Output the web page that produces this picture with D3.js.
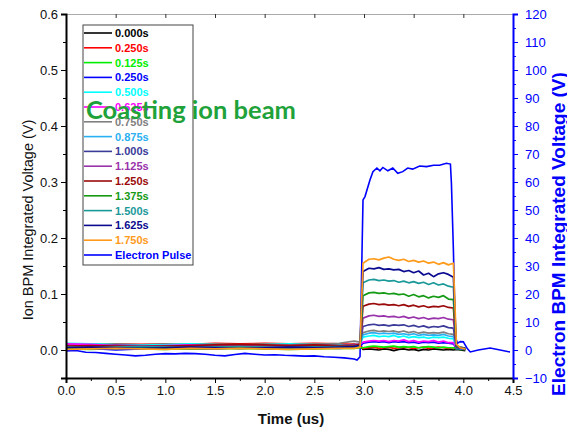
<!DOCTYPE html>
<html lang="en">
<head>
  <meta charset="UTF-8">
  <title>Ion BPM</title>
  <style>
    body{ margin: 0; background: #fff; }
    svg{ display: block; font-family: "Liberation Sans", Arial, sans-serif; }
  </style>
</head>
<body>
<svg width="567" height="430"></svg>

<script src="https://cdn.jsdelivr.net/npm/d3@7"></script>
<script>
  // tick labels
  var xTicks = [0, 0.5, 1.0, 1.5, 2.0, 2.5, 3.0, 3.5, 4.0, 4.5];
  var yLeftTicks = [0, 0.1, 0.2, 0.3, 0.4, 0.5, 0.6];
  var yRightTicks = [-10, 0, 10, 20, 30, 40, 50, 60, 70, 80, 90, 100, 110, 120];

  // legend names of the ion traces
  var ionNames = ['0.000s', '0.250s', '0.125s', '0.250s', '0.500s', '0.625s', '0.750s', '0.875s',
    '1.000s', '1.125s', '1.250s', '1.375s', '1.500s', '1.625s', '1.750s'];
  var ionColors = ['#000000', '#ff0000', '#00ee00', '#0000ff', '#00ffff', '#ff00ff', '#808080', '#2ab0f0',
    '#3b3b9a', '#9933aa', '#9b0a0a', '#159a15', '#1a9999', '#0a0a90', '#ff9a1a'];

  // time (us) shared by the ion traces
  var ionTime = [0, 0.25, 0.5, 0.75, 1.0, 1.25, 1.5, 1.75, 2.0, 2.25, 2.5, 2.75, 2.9, 2.96,
    2.99, 3.05, 3.1, 3.15, 3.2, 3.25, 3.3, 3.35, 3.4, 3.45, 3.5, 3.55, 3.6, 3.65, 3.7, 3.75, 3.8, 3.85, 3.9,
    3.93, 3.97, 4.02];

  // ion BPM voltage (V), one array per trace
  var ion000 = [0.005,0.006,0.004,0.006,0.005,0.007,0.005,0.006,0.007,0.006,0.007,0.008,0.010,0.008,
    0.001,0.002,0.001,0.000,0.002,0.001,-0.001,0.001,0.002,0.000,0.001,-0.001,0.001,0.000,0.002,0.001,0.000,0.001,0.000,
    0.001,0.000,-0.001];
  var ion025a = [0.009,0.010,0.011,0.010,0.011,0.010,0.012,0.011,0.012,0.011,0.012,0.011,0.010,0.009,
    0.003,0.004,0.005,0.003,0.004,0.005,0.003,0.004,0.005,0.004,0.003,0.004,0.005,0.003,0.004,0.005,0.004,0.003,0.004,
    0.003,0.002,0.001];
  var ion0125 = [0.002,0.001,0.003,0.002,0.001,0.003,0.002,0.003,0.002,0.001,0.002,0.003,0.003,0.004,
    0.004,0.006,0.007,0.006,0.005,0.006,0.007,0.005,0.006,0.005,0.006,0.004,0.005,0.006,0.005,0.004,0.005,0.004,0.004,
    0.002,0.001,0.001];
  var ion025b = [0.006,0.003,0.000,0.002,0.004,0.003,0.002,0.004,0.003,0.002,0.004,0.003,0.004,0.006,
    0.012,0.014,0.015,0.014,0.015,0.013,0.015,0.014,0.015,0.013,0.014,0.012,0.014,0.013,0.014,0.012,0.013,0.012,0.011,
    0.003,0.002,0.001];
  var ion050 = [0.012,0.011,0.010,0.009,0.010,0.011,0.010,0.009,0.010,0.011,0.010,0.009,0.008,0.010,
    0.023,0.025,0.026,0.024,0.025,0.024,0.026,0.023,0.025,0.022,0.024,0.022,0.023,0.021,0.023,0.022,0.023,0.021,0.020,
    0.004,0.003,0.002];
  var ion0625 = [0.011,0.010,0.008,0.007,0.008,0.009,0.008,0.007,0.008,0.009,0.008,0.007,0.008,0.010,
    0.014,0.016,0.017,0.016,0.017,0.015,0.017,0.016,0.018,0.015,0.017,0.014,0.016,0.015,0.017,0.014,0.016,0.013,0.013,
    0.004,0.003,0.002];
  var ion075 = [0.007,0.006,0.007,0.008,0.007,0.006,0.008,0.007,0.008,0.009,0.010,0.012,0.016,0.014,
    0.031,0.034,0.035,0.033,0.034,0.033,0.034,0.032,0.034,0.031,0.033,0.030,0.032,0.030,0.031,0.030,0.032,0.029,0.028,
    0.006,0.004,0.003];
  var ion0875 = [0.004,0.005,0.004,0.006,0.005,0.004,0.005,0.006,0.005,0.004,0.005,0.006,0.007,0.009,
    0.027,0.030,0.031,0.029,0.030,0.029,0.030,0.028,0.029,0.027,0.029,0.026,0.028,0.026,0.027,0.026,0.028,0.025,0.024,
    0.005,0.003,0.002];
  var ion100 = [0.006,0.005,0.006,0.005,0.006,0.007,0.006,0.005,0.006,0.007,0.006,0.007,0.009,0.010,
    0.042,0.045,0.046,0.044,0.045,0.043,0.045,0.044,0.045,0.042,0.044,0.041,0.043,0.040,0.042,0.041,0.043,0.040,0.039,
    0.004,0.003,0.002];
  var ion1125 = [0.008,0.007,0.009,0.008,0.007,0.008,0.009,0.008,0.007,0.008,0.009,0.008,0.009,0.011,
    0.057,0.061,0.062,0.060,0.061,0.059,0.060,0.058,0.060,0.057,0.059,0.056,0.058,0.055,0.057,0.056,0.058,0.055,0.054,
    0.005,0.004,0.002];
  var ion125 = [0.007,0.008,0.007,0.006,0.007,0.008,0.009,0.010,0.009,0.008,0.009,0.008,0.008,0.010,
    0.078,0.082,0.083,0.081,0.082,0.080,0.081,0.079,0.081,0.078,0.080,0.077,0.079,0.076,0.078,0.077,0.079,0.076,0.075,
    0.006,0.005,0.003];
  var ion1375 = [0.003,0.004,0.003,0.004,0.003,0.002,0.003,0.004,0.003,0.004,0.003,0.004,0.004,0.006,
    0.097,0.102,0.103,0.101,0.102,0.100,0.101,0.099,0.100,0.096,0.099,0.095,0.097,0.093,0.096,0.094,0.097,0.091,0.090,
    0.006,0.004,0.002];
  var ion150 = [0.005,0.004,0.005,0.006,0.005,0.004,0.005,0.006,0.005,0.004,0.005,0.006,0.006,0.008,
    0.120,0.125,0.126,0.124,0.125,0.123,0.124,0.121,0.123,0.120,0.122,0.119,0.121,0.117,0.120,0.116,0.118,0.114,0.112,
    0.007,0.005,0.003];
  var ion1625 = [0.004,0.005,0.004,0.003,0.004,0.005,0.004,0.003,0.004,0.005,0.004,0.005,0.006,0.008,
    0.140,0.146,0.145,0.147,0.144,0.145,0.143,0.144,0.140,0.142,0.138,0.141,0.134,0.137,0.131,0.136,0.138,0.135,0.130,
    0.008,0.004,0.003];
  var ion175 = [0.001,0.002,0.003,0.002,0.001,0.003,0.002,0.003,0.002,0.001,0.002,0.003,0.003,0.005,
    0.155,0.162,0.163,0.161,0.164,0.166,0.162,0.160,0.162,0.158,0.160,0.157,0.159,0.155,0.157,0.153,0.156,0.152,0.155,
    0.010,0.004,0.002];
  var ionSeries = [ion000, ion025a, ion0125, ion025b, ion050, ion0625, ion075, ion0875,
    ion100, ion1125, ion125, ion1375, ion150, ion1625, ion175];

  // electron pulse, right axis (V)
  var eTime = [0, 0.1, 0.2, 0.3, 0.4, 0.5, 0.6, 0.7, 0.8, 0.9, 1.0, 1.1, 1.2, 1.3, 1.4, 1.5, 1.6, 1.7, 1.8, 1.9,
    2.0, 2.1, 2.2, 2.3, 2.4, 2.5, 2.6, 2.7, 2.8, 2.9, 2.93, 2.96, 2.99, 3.01, 3.06, 3.09, 3.13, 3.16, 3.19, 3.24,
    3.29, 3.34, 3.39, 3.44, 3.49, 3.56, 3.63, 3.70, 3.76, 3.83, 3.87, 3.88, 3.90, 3.92, 3.94, 3.97, 4.0, 4.04,
    4.07, 4.15, 4.27, 4.37, 4.47];
  var ePulse = [-0.3, -0.2, -0.8, -0.9, -1.2, -1.5, -1.8, -2.1, -1.9, -1.5, -1.3, -1.4, -1.2, -1.3, -1.5, -1.9,
    -2.1, -1.6, -1.2, -1.5, -1.8, -1.7, -1.9, -2.0, -2.2, -2.1, -2.4, -2.6, -2.8, -3.2, -3.6, -2.4, 53.6, 54.8,
    60.7, 63.7, 65.0, 64.0, 65.2, 64.0, 65.0, 63.1, 63.7, 65.0, 64.6, 65.7, 65.5, 66.0, 66.0, 66.7, 66.4, 59.6,
    35.7, 4.8, 2.4, 3.0, 2.9, 0.5, -0.7, 0.0, 0.7, 0.0, -0.7];

  var svg = d3.select('svg');
  var pLeft = 66, pRight = 513, pTop = 14, pBottom = 378;

  var x = d3.scaleLinear().domain([0, 4.5]).range([pLeft, pRight]);
  var yL = d3.scaleLinear().domain([-0.05, 0.6]).range([pBottom, pTop]);
  var yR = d3.scaleLinear().domain([-10, 120]).range([pBottom, pTop]);

  // top frame line with small inner ticks
  var topAxis = svg.append('g').attr('transform', `translate(0, ${pTop})`)
    .call(d3.axisTop(x).tickValues(xTicks).tickSize(-4).tickFormat(''));
  topAxis.select('.domain').attr('stroke', '#aaa');
  topAxis.selectAll('.tick line').attr('stroke', '#333');

  // lines
  var lineIon = d3.line().x(function (d) { return x(d[0]); }).y(function (d) { return yL(d[1]); });
  var lineE = d3.line().x(function (d) { return x(d[0]); }).y(function (d) { return yR(d[1]); });

  svg.append('path')
    .attr('d', lineE(d3.zip(eTime, ePulse)))
    .attr('fill', 'none').attr('stroke', '#0000ff').attr('stroke-width', 1.6);

  ionSeries.forEach(function (vals, i) {
    svg.append('path')
      .attr('d', lineIon(d3.zip(ionTime, vals)))
      .attr('fill', 'none').attr('stroke', ionColors[i]).attr('stroke-width', 1.7)
      .attr('stroke-linejoin', 'round');
  });

  // axes
  function minor(ticks, step) {
    return ticks.slice(0, -1).map(function (t) { return t + step; });
  }
  var xMinor = minor(xTicks, 0.25);
  var yLMinor = [-0.05].concat(minor(yLeftTicks, 0.05));
  var yRMinor = minor(yRightTicks, 5);

  svg.append('g').attr('transform', `translate(0, ${pBottom})`)
    .call(d3.axisBottom(x).tickValues(xMinor).tickSize(3).tickFormat(''))
    .select('.domain').remove();
  var xAxis = svg.append('g').attr('transform', `translate(0, ${pBottom})`)
    .call(d3.axisBottom(x).tickValues(xTicks).tickSize(5).tickPadding(3).tickFormat(d3.format('.1f')));
  xAxis.select('.domain').attr('stroke-width', 2);

  svg.append('g').attr('transform', `translate(${pLeft}, 0)`)
    .call(d3.axisLeft(yL).tickValues(yLMinor).tickSize(3).tickFormat(''))
    .select('.domain').remove();
  var yAxisL = svg.append('g').attr('transform', `translate(${pLeft}, 0)`)
    .call(d3.axisLeft(yL).tickValues(yLeftTicks).tickSize(5).tickPadding(3).tickFormat(d3.format('.1f')));
  yAxisL.select('.domain').attr('stroke-width', 2);

  svg.append('g').attr('transform', `translate(${pRight}, 0)`)
    .call(d3.axisRight(yR).tickValues(yRMinor).tickSize(3).tickFormat(''))
    .call(function (g) { g.select('.domain').remove(); g.selectAll('line').attr('stroke', '#0000ff'); });
  var yAxisR = svg.append('g').attr('transform', `translate(${pRight}, 0)`)
    .call(d3.axisRight(yR).tickValues(yRightTicks).tickSize(5).tickPadding(7));
  yAxisR.select('.domain').attr('stroke', '#0000ff').attr('stroke-width', 2);
  yAxisR.selectAll('.tick line').attr('stroke', '#0000ff');
  yAxisR.selectAll('.tick text').attr('fill', '#0000ff');

  svg.selectAll('.tick text').attr('font-size', 13).attr('font-family', '"Liberation Sans", Arial, sans-serif');
  xAxis.selectAll('.tick text').attr('fill', '#111');
  yAxisL.selectAll('.tick text').attr('fill', '#111');

  // axis titles
  svg.append('text').attr('x', 291).attr('y', 424).attr('text-anchor', 'middle')
    .attr('font-size', 15).attr('font-weight', 'bold').attr('fill', '#111').text('Time (us)');
  svg.append('text').attr('transform', 'translate(28, 220) rotate(-90)').attr('text-anchor', 'middle')
    .attr('dominant-baseline', 'central').attr('font-size', 14.5).attr('fill', '#111')
    .text('Ion BPM Integrated Voltage (V)');
  svg.append('text').attr('transform', 'translate(558, 234) rotate(-90)').attr('text-anchor', 'middle')
    .attr('dominant-baseline', 'central').attr('font-size', 19).attr('font-weight', 'bold').attr('fill', '#0000ff')
    .text('Electron BPM Integrated Voltage (V)');

  // legend
  var legend = svg.append('g');
  legend.append('rect').attr('x', 83).attr('y', 25).attr('width', 110).attr('height', 240)
    .attr('fill', 'none').attr('stroke', '#444').attr('stroke-width', 1);
  var legNames = ionNames.concat(['Electron Pulse']);
  var legColors = ionColors.concat(['#0000ff']);
  var items = legend.selectAll('.item').data(legNames).enter().append('g')
    .attr('transform', function (d, i) { return `translate(0, ${33 + i * 14.8})`; });
  items.append('line').attr('x1', 84).attr('x2', 112)
    .attr('stroke', function (d, i) { return legColors[i]; }).attr('stroke-width', 1.6);
  items.append('text').attr('x', 115).attr('dominant-baseline', 'central')
    .attr('font-size', 11).attr('font-weight', 'bold')
    .attr('fill', function (d, i) { return legColors[i]; })
    .text(function (d) { return d; });

  // annotation
  svg.append('text').attr('x', 86).attr('y', 119)
    .attr('font-family', 'Lato, "Open Sans", sans-serif').attr('font-size', 25.5).attr('font-weight', 'bold')
    .attr('fill', '#1fa23a').text('Coasting ion beam');
</script>
</body>
</html>
